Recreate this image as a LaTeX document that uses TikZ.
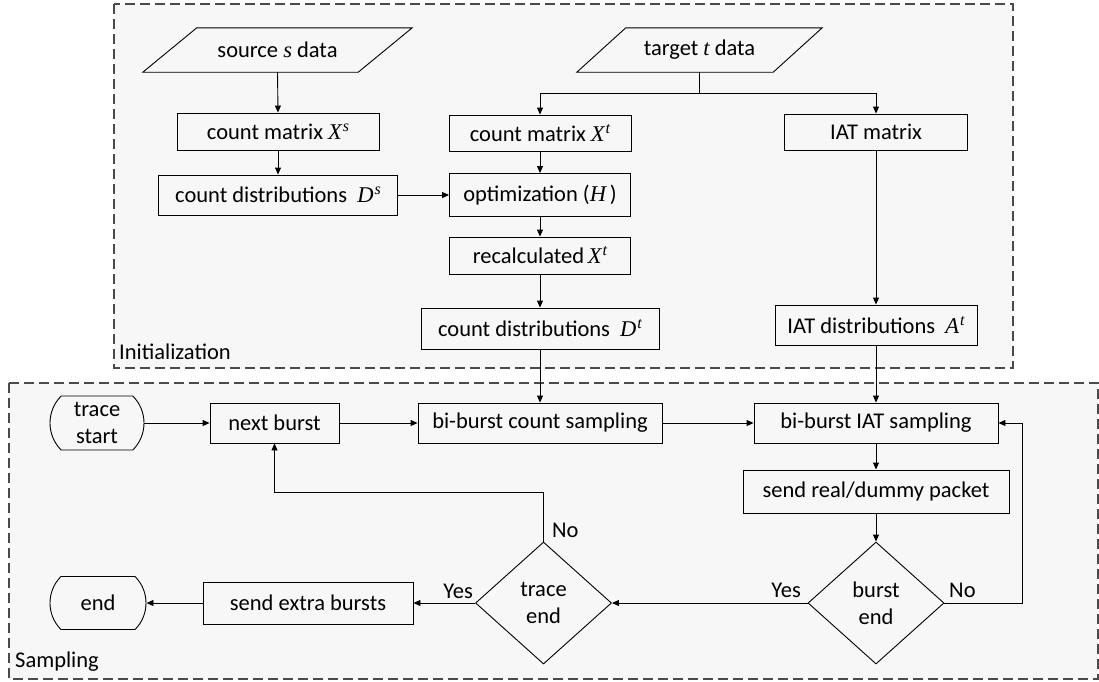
\documentclass[tikz,border=0pt]{standalone}
\usepackage{fontspec}
\setmainfont{Carlito}
\newfontfamily\varfont{Liberation Serif}
\newcommand{\vr}[1]{{\varfont\itshape #1}}
\newcommand{\vs}[2]{\vr{#1}\kern1pt\raisebox{8pt}{\fontsize{16}{16}\selectfont\vr{#2}}}
\usetikzlibrary{arrows.meta,shapes.geometric,shapes.misc,calc}
\definecolor{panel}{HTML}{F7F7F7}
\definecolor{framec}{HTML}{4A4A4A}
\begin{document}
\begin{tikzpicture}[x=1pt,y=-1pt,
  every node/.style={font=\fontsize{22.5}{27}\selectfont},
  box/.style={draw,line width=0.9pt,inner sep=0pt,align=center},
  iobox/.style={inner sep=0pt,align=center},
  dec/.style={draw,diamond,line width=0.9pt,inner sep=0pt,align=center,minimum width=136pt,minimum height=122pt},
  term/.style={draw,rounded rectangle,rounded rectangle arc length=90,line width=0.9pt,inner sep=0pt,align=center},
  arr/.style={line width=0.9pt,-{Triangle[length=7pt,width=6pt]}},
  plain/.style={line width=0.9pt},
  lbl/.style={inner sep=0pt},
  frame/.style={fill=panel,draw=framec,line width=1.3pt,dash pattern=on 10pt off 5pt}]

\useasboundingbox (0,0) rectangle (1099,681);
\draw[frame] (114,4) rectangle (1013,368);
\draw[frame] (9,383) rectangle (1098,679);

\node[lbl,anchor=west] (initlbl) at (119,352) {Initialization};
\node[lbl,anchor=west] (samplbl) at (15,662) {Sampling};

% inputs
\node[iobox,minimum width=215pt,minimum height=44pt] (src) at (277.5,50) {source \vr{s} data};
\draw[line width=0.9pt] ($(src.south west)+(-27,0)$) -- ($(src.south east)+(-27,0)$) -- ($(src.north east)+(27,0)$) -- ($(src.north west)+(27,0)$) -- cycle;
\node[iobox,minimum width=196pt,minimum height=44pt] (tgt) at (699.5,50) {target \vr{t} data};
\draw[line width=0.9pt] ($(tgt.south west)+(-24.5,0)$) -- ($(tgt.south east)+(-24.5,0)$) -- ($(tgt.north east)+(24.5,0)$) -- ($(tgt.north west)+(24.5,0)$) -- cycle;

% initialization boxes
\node[box,minimum width=202pt,minimum height=37pt] (xs) at (278,131.5) {count matrix \vs{X}{s}};
\node[box,minimum width=239pt,minimum height=40pt] (ds) at (278,195) {count distributions~ \vs{D}{s}};
\node[box,minimum width=182pt,minimum height=36pt] (xt) at (540,133) {count matrix \vs{X}{t}};
\node[box,minimum width=183pt,minimum height=36pt] (iatm) at (876,132) {IAT matrix};
\node[box,minimum width=181pt,minimum height=43pt] (opt) at (540,195) {optimization (\vr{H}\,)};
\node[box,minimum width=181pt,minimum height=37pt] (recalc) at (540,255.5) {recalculated\,\vs{X}{t}};
\node[box,minimum width=238pt,minimum height=41pt] (dt) at (540,328.5) {count distributions~ \vs{D}{t}};
\node[box,minimum width=202pt,minimum height=40pt] (at) at (876,325) {IAT distributions~ \vs{A}{t}};

% sampling
\node[term,minimum width=94pt,minimum height=54pt] (tstart) at (97,423) {trace\\start};
\node[box,minimum width=129pt,minimum height=40pt] (next) at (274.5,423) {next burst};
\node[box,minimum width=244pt,minimum height=40pt] (bcount) at (540,423) {bi-burst count sampling};
\node[box,minimum width=244pt,minimum height=40pt] (biat) at (876,423) {bi-burst IAT sampling};
\node[box,minimum width=266pt,minimum height=43pt] (send) at (876,491.5) {send real/dummy packet};
\node[dec] (bend) at (876,603) {burst\\end};
\node[dec] (tend) at (543.5,603) {trace\\end};
\node[box,minimum width=210pt,minimum height=42pt] (extra) at (308,603) {send extra bursts};
\node[term,minimum width=96pt,minimum height=53pt] (endn) at (98,603) {end};

% connectors (initialization)
\draw[arr] (src.south) -- (xs.north);
\draw[arr] (xs.south) -- (ds.north);
\draw[arr] (ds.east) -- (opt.west);
\coordinate (split) at (699.5,93);
\draw[plain] (tgt.south) -- (split);
\draw[arr] (split) -| (xt.north);
\draw[arr] (split) -| (iatm.north);
\draw[arr] (xt.south) -- (opt.north);
\draw[arr] (opt.south) -- (recalc.north);
\draw[arr] (recalc.south) -- (dt.north);
\draw[arr] (iatm.south) -- (at.north);

% connectors (sampling)
\draw[arr] (dt.south) -- (bcount.north);
\draw[arr] (at.south) -- (biat.north);
\draw[arr] (tstart.east) -- (next.west);
\draw[arr] (next.east) -- (bcount.west);
\draw[arr] (bcount.east) -- (biat.west);
\draw[arr] (biat.south) -- (send.north);
\draw[arr] (send.south) -- (bend.north);
\draw[arr] (bend.west) -- (tend.east);
\coordinate (rback) at (1022,603);
\draw[arr] (bend.east) -- (rback) |- (biat.east);
\coordinate (lback) at (543.5,492);
\draw[arr] (tend.north) -- (lback) -| (next.south);
\draw[arr] (tend.west) -- (extra.east);
\draw[arr] (extra.west) -- (endn.east);

% branch labels
\node[lbl,anchor=east] (yes1) at (801,590) {Yes};
\node[lbl,anchor=west] (no1) at (949,590) {No};
\node[lbl,anchor=west] (no2) at (552,530) {No};
\node[lbl,anchor=east] (yes2) at (473,591) {Yes};
\end{tikzpicture}
\end{document}
